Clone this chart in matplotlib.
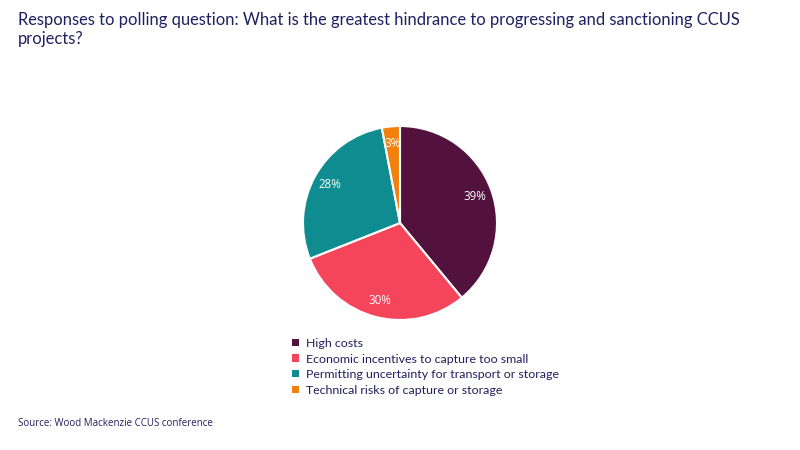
import matplotlib.pyplot as plt
from matplotlib.patches import Patch

labels = ["High costs",
          "Economic incentives to capture too small",
          "Permitting uncertainty for transport or storage",
          "Technical risks of capture or storage"]
shares = [39, 30, 28, 3]
colors = ["#52123d", "#f5455a", "#0e8c8f", "#f2800d"]
navy = "#1f2060"

plt.rcParams['font.family'] = ['Lato', 'DejaVu Sans']

fig = plt.figure(figsize=(8, 4.5), dpi=100)
fig.patch.set_facecolor("white")

fig.text(18/800, 1 - 20/450, "Responses to polling question: What is the greatest hindrance to progressing and sanctioning CCUS",
         fontsize=11.9, color=navy, va="center", ha="left")
fig.text(18/800, 1 - 39/450, "projects?", fontsize=11.9, color=navy, va="center", ha="left")

ax = fig.add_axes([(400 - 97)/800, 1 - (223 + 97)/450, 194/800, 194/450])
wedges, texts, autotexts = ax.pie(shares, colors=colors, startangle=90, counterclock=False,
                                  autopct="%d%%", pctdistance=0.82,
                                  wedgeprops={"edgecolor": "white", "linewidth": 1.5},
                                  textprops={"color": "white", "fontsize": 8.3,
                                             "family": ["Open Sans", "DejaVu Sans"]})
ax.set_xlim(-1, 1)
ax.set_ylim(-1, 1)
ax.set_aspect("equal")

handles = [Patch(facecolor=c, edgecolor="none") for c in colors]
leg = fig.legend(handles, labels, loc="upper left", bbox_to_anchor=(292/800, 1 - 338/450),
                 frameon=False, handlelength=0.55, handleheight=0.55, handletextpad=0.6,
                 labelspacing=0.37, fontsize=8.9, borderaxespad=0, borderpad=0)
for t in leg.get_texts():
    t.set_color(navy)

fig.text(18/800, 1 - 423/450, "Source: Wood Mackenzie CCUS conference", fontsize=7, color=navy,
         va="center", ha="left", family=["Open Sans", "DejaVu Sans"])

fig.savefig("out.png", dpi=100)
